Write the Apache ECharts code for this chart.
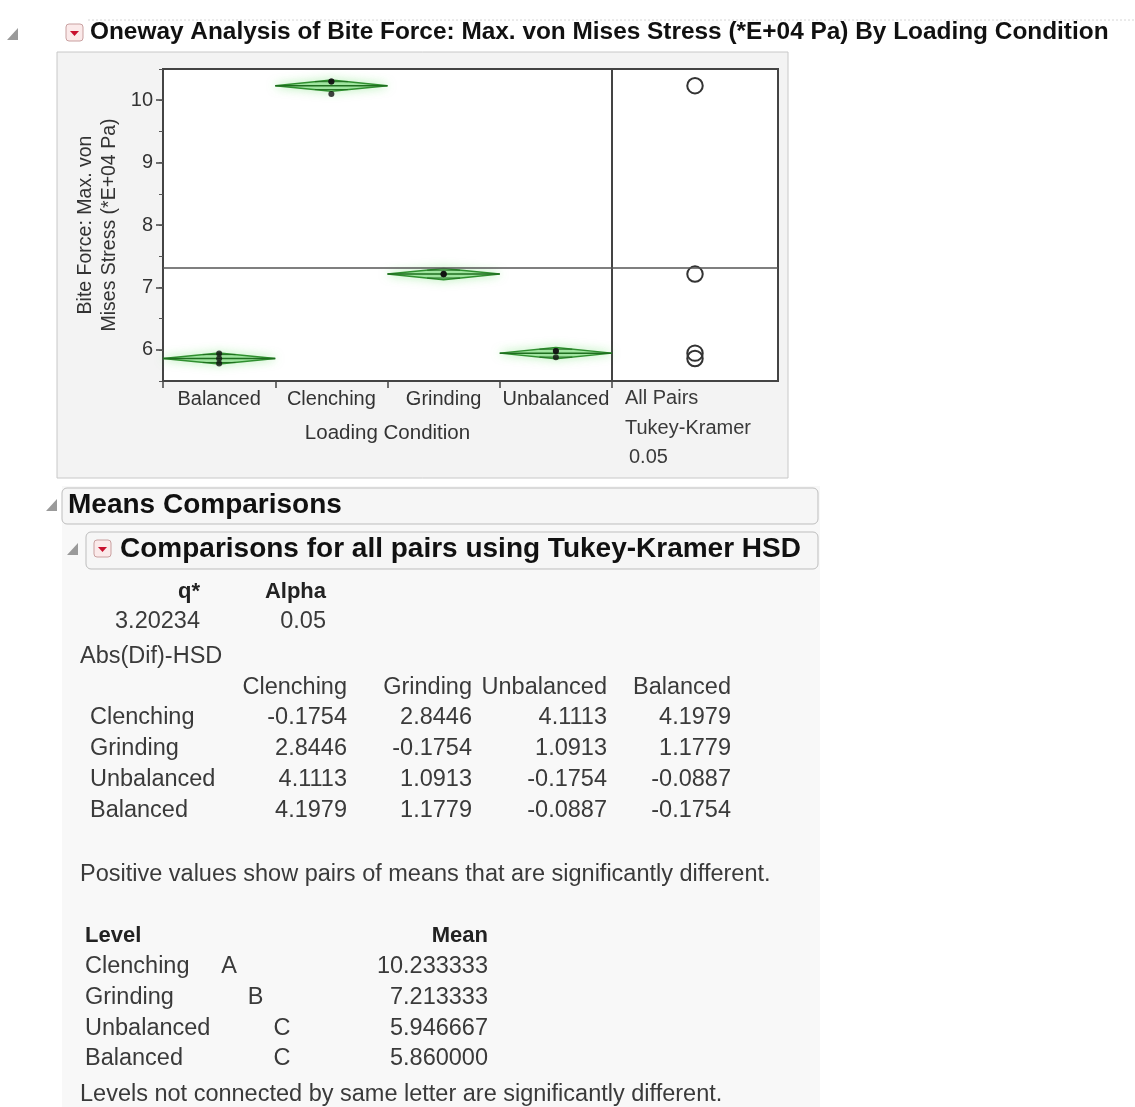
<!DOCTYPE html>
<html>
<head>
<meta charset="utf-8">
<script src="https://cdn.jsdelivr.net/npm/echarts@6/dist/echarts.min.js"></script>
<style>
html, body { margin: 0; padding: 0; background: #fff; }
#main { width: 1135px; height: 1107px; }
</style>
</head>
<body>
<div id="main"></div>
<script>
// levels on the x axis (plot order)
var levels = ['Balanced', 'Clenching', 'Grinding', 'Unbalanced'];
var obsBalanced = [5.78, 5.86, 5.94];
var obsClenching = [10.3, 10.3, 10.1];
var obsGrinding = [7.22, 7.21, 7.21];
var obsUnbalanced = [5.88, 5.98, 5.98];
// group means (from the report) and diamond half heights (95% CI)
var levelMeans = [5.86, 10.233333, 7.213333, 5.946667];
var ciHalf = [0.089, 0.089, 0.089, 0.089];
// comparison circle radii
var circleRadius = [0.124, 0.124, 0.124, 0.124];
var yTickValues = [6, 7, 8, 9, 10];

// report tables
var qStar = '3.20234';
var alphaVal = '0.05';
var hsdLevels = ['Clenching', 'Grinding', 'Unbalanced', 'Balanced'];
var hsdMatrix = [
    [-0.1754, 2.8446, 4.1113, 4.1979],
    [2.8446, -0.1754, 1.0913, 1.1779],
    [4.1113, 1.0913, -0.1754, -0.0887],
    [4.1979, 1.1779, -0.0887, -0.1754]
];
var letterLevels = ['Clenching', 'Grinding', 'Unbalanced', 'Balanced'];
var letterCols = [0, 1, 2, 2];
var letterText = ['A', 'B', 'C', 'C'];
var letterMeans = ['10.233333', '7.213333', '5.946667', '5.860000'];

var FONT = '"Liberation Sans", Arial, sans-serif';
var allObs = [obsBalanced, obsClenching, obsGrinding, obsUnbalanced];
var grandMean = levelMeans.reduce(function (a, b) { return a + b; }, 0) / levelMeans.length;

var pointData = [];
allObs.forEach(function (arr, i) {
    arr.forEach(function (v) { pointData.push([i, v]); });
});

function renderDiamond(params, api) {
    var c = api.coord([api.value(0), api.value(1)]);
    var half = api.size([1, 0])[0] / 2;
    var h = api.size([0, api.value(2)])[1];
    var ov = h * Math.SQRT1_2;
    var ovw = half * (1 - Math.SQRT1_2);
    var dark = '#1f6e1f';
    return {
        type: 'group',
        children: [
            {
                type: 'polygon',
                shape: { points: [[c[0] - half, c[1]], [c[0], c[1] - h], [c[0] + half, c[1]], [c[0], c[1] + h]] },
                style: { fill: 'rgba(120,215,120,0.55)', stroke: '#2f8f2f', lineWidth: 1.5, shadowBlur: 10, shadowColor: 'rgba(90,220,90,0.55)' }
            },
            { type: 'line', shape: { x1: c[0] - half, y1: c[1], x2: c[0] + half, y2: c[1] }, style: { stroke: dark, lineWidth: 1.5 } },
            { type: 'line', shape: { x1: c[0] - ovw, y1: c[1] - ov, x2: c[0] + ovw, y2: c[1] - ov }, style: { stroke: dark, lineWidth: 1 } },
            { type: 'line', shape: { x1: c[0] - ovw, y1: c[1] + ov, x2: c[0] + ovw, y2: c[1] + ov }, style: { stroke: dark, lineWidth: 1 } }
        ]
    };
}

function renderCircle(params, api) {
    var c = api.coord([api.value(0), api.value(1)]);
    var r = api.size([0, api.value(2)])[1];
    return {
        type: 'circle',
        shape: { cx: c[0], cy: c[1], r: r },
        style: { fill: 'none', stroke: '#333', lineWidth: 2 }
    };
}

// page decorations and report text
function txt(x, y, s, o) {
    o = o || {};
    return {
        type: 'text', x: x, y: y, silent: true, z: 10,
        style: {
            text: s,
            font: (o.bold ? 'bold ' : '') + (o.size || 23.5) + 'px ' + FONT,
            fill: o.color || '#3a3a3a',
            textAlign: o.align || 'left',
            textVerticalAlign: 'middle'
        }
    };
}
function tri(x, y) {
    return { type: 'polygon', silent: true, z: 10, shape: { points: [[x, y + 12], [x + 11, y], [x + 11, y + 12]] }, style: { fill: '#9a9a9a' } };
}
function redBtn(x, y) {
    return [
        { type: 'rect', silent: true, z: 10, shape: { x: x, y: y, width: 17, height: 17, r: 3 }, style: { fill: '#fbeaea', stroke: '#c9a0a0', lineWidth: 1 } },
        { type: 'polygon', silent: true, z: 11, shape: { points: [[x + 4, y + 7], [x + 13, y + 7], [x + 8.5, y + 12]] }, style: { fill: '#c8102e' } }
    ];
}

var g = [];
// panel backgrounds
g.push({ type: 'rect', silent: true, z: -10, shape: { x: 57, y: 52, width: 731, height: 426 }, style: { fill: '#f3f3f3', stroke: '#c8c8c8', lineWidth: 1 } });
g.push({ type: 'rect', silent: true, z: -10, shape: { x: 62, y: 486, width: 758, height: 621 }, style: { fill: '#f8f8f8' } });
g.push({ type: 'rect', silent: true, z: -9, shape: { x: 62, y: 488, width: 756, height: 36, r: 5 }, style: { fill: '#f6f6f6', stroke: '#bdbdbd', lineWidth: 1 } });
g.push({ type: 'rect', silent: true, z: -9, shape: { x: 86, y: 532, width: 732, height: 37, r: 5 }, style: { fill: '#f6f6f6', stroke: '#bdbdbd', lineWidth: 1 } });
g.push({ type: 'line', silent: true, z: -9, shape: { x1: 88, y1: 20, x2: 1135, y2: 20 }, style: { stroke: '#d6d6d6', lineWidth: 1, lineDash: [2, 2] } });

// headings
g.push(tri(7, 28));
g = g.concat(redBtn(66, 24));
g.push(txt(90, 32, 'Oneway Analysis of Bite Force: Max. von Mises Stress (*E+04 Pa) By Loading Condition', { bold: true, size: 24.4, color: '#111' }));
g.push(tri(46, 499));
g.push(txt(68, 505, 'Means Comparisons', { bold: true, size: 28, color: '#111' }));
g.push(tri(67, 543));
g = g.concat(redBtn(94, 540));
g.push(txt(120, 549, 'Comparisons for all pairs using Tukey-Kramer HSD', { bold: true, size: 28, color: '#111' }));

// right panel caption
g.push(txt(625, 398, 'All Pairs', { size: 20 }));
g.push(txt(625, 428, 'Tukey-Kramer', { size: 20 }));
g.push(txt(629, 457, '0.05', { size: 20 }));

// q* / alpha
g.push(txt(200, 592, 'q*', { bold: true, size: 22, align: 'right', color: '#222' }));
g.push(txt(326, 592, 'Alpha', { bold: true, size: 22, align: 'right', color: '#222' }));
g.push(txt(200, 622, qStar, { align: 'right' }));
g.push(txt(326, 622, alphaVal, { align: 'right' }));
g.push(txt(80, 657, 'Abs(Dif)-HSD'));

// Abs(Dif)-HSD matrix
var colRight = [347, 472, 607, 731];
var rowY = [718, 749, 780, 811];
hsdLevels.forEach(function (name, j) {
    g.push(txt(colRight[j], 688, name, { align: 'right' }));
});
hsdLevels.forEach(function (name, i) {
    g.push(txt(90, rowY[i], name));
    hsdMatrix[i].forEach(function (v, j) {
        g.push(txt(colRight[j], rowY[i], v.toFixed(4), { align: 'right' }));
    });
});
g.push(txt(80, 875, 'Positive values show pairs of means that are significantly different.'));

// connecting letters report
g.push(txt(85, 936, 'Level', { bold: true, size: 22, color: '#222' }));
g.push(txt(488, 936, 'Mean', { bold: true, size: 22, align: 'right', color: '#222' }));
var lvY = [967, 998, 1029, 1059];
letterLevels.forEach(function (name, i) {
    g.push(txt(85, lvY[i], name));
    g.push(txt(229 + 26.5 * letterCols[i], lvY[i], letterText[i], { align: 'center' }));
    g.push(txt(488, lvY[i], letterMeans[i], { align: 'right' }));
});
g.push(txt(80, 1095, 'Levels not connected by same letter are significantly different.'));

var option = {
    backgroundColor: '#ffffff',
    animation: false,
    textStyle: { fontFamily: FONT },
    graphic: g,
    grid: [
        { left: 163, top: 69, width: 449, height: 312, show: true, backgroundColor: '#fff', borderColor: '#444', borderWidth: 2 },
        { left: 612, top: 69, width: 166, height: 312, show: true, backgroundColor: '#fff', borderColor: '#444', borderWidth: 2 }
    ],
    xAxis: [
        {
            type: 'category', gridIndex: 0, data: levels,
            axisLine: { show: false },
            axisTick: { show: true, length: 7, lineStyle: { color: '#444', width: 1.5 } },
            axisLabel: { interval: 0, fontSize: 20, color: '#333', margin: 8 },
            name: 'Loading Condition', nameLocation: 'middle', nameGap: 42,
            nameTextStyle: { fontSize: 20.5, color: '#333' }
        },
        { type: 'value', gridIndex: 1, min: 0, max: 1, show: false }
    ],
    yAxis: [
        {
            type: 'value', gridIndex: 0, position: 'left', min: 5.5, max: 10.5, interval: 0.5,
            axisLine: { show: false },
            splitLine: { show: false },
            axisTick: { show: true, length: 7, customValues: yTickValues, lineStyle: { color: '#444', width: 1.5 } },
            axisLabel: { customValues: yTickValues, fontSize: 20, color: '#333', margin: 10 },
            name: 'Bite Force: Max. von\nMises Stress (*E+04 Pa)',
            nameLocation: 'middle', nameGap: 41,
            nameTextStyle: { fontSize: 19.5, color: '#333', lineHeight: 24 }
        },
        {
            // minor ticks at the half units
            type: 'value', gridIndex: 0, position: 'left', offset: 0, min: 5.5, max: 10.5, interval: 0.5,
            axisLine: { show: false }, splitLine: { show: false },
            axisTick: { show: true, length: 4, lineStyle: { color: '#555', width: 1 } },
            axisLabel: { show: false }
        },
        { type: 'value', gridIndex: 1, min: 5.5, max: 10.5, show: false }
    ],
    series: [
        {
            type: 'custom', name: 'diamonds', xAxisIndex: 0, yAxisIndex: 0, z: 3,
            renderItem: renderDiamond,
            data: levels.map(function (l, i) { return [i, levelMeans[i], ciHalf[i]]; }),
            markLine: {
                silent: true, symbol: 'none', label: { show: false },
                lineStyle: { color: '#555', width: 1.5, type: 'solid' },
                data: [{ yAxis: grandMean }]
            }
        },
        {
            type: 'scatter', name: 'obs', xAxisIndex: 0, yAxisIndex: 0, z: 5,
            symbol: 'circle', symbolSize: 6,
            itemStyle: { color: '#111' },
            data: pointData
        },
        {
            type: 'custom', name: 'circles', xAxisIndex: 1, yAxisIndex: 2, z: 3,
            renderItem: renderCircle,
            data: levelMeans.map(function (m, i) { return [0.5, m, circleRadius[i]]; }),
            markLine: {
                silent: true, symbol: 'none', label: { show: false },
                lineStyle: { color: '#555', width: 1.5, type: 'solid' },
                data: [{ yAxis: grandMean }]
            }
        }
    ]
};

var chart = echarts.init(document.getElementById('main'));
chart.setOption(option);
window.onresize = function () {
    chart.resize();
};
</script>
</body>
</html>
